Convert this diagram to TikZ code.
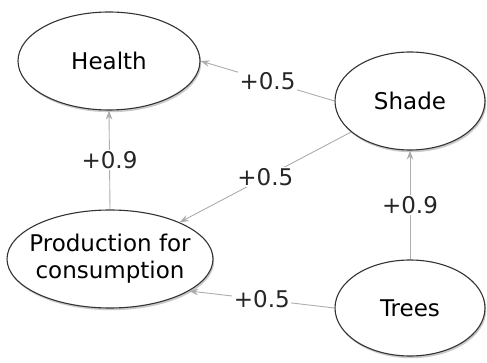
\documentclass[tikz,border=0pt]{standalone}
\usepackage{fontspec}
\setmainfont{DejaVu Sans}
\usetikzlibrary{shapes.geometric,arrows.meta,shadows}
\begin{document}
\begin{tikzpicture}[x=1pt,y=-1pt,
  concept/.style={ellipse, draw=black!80, line width=1.1pt, fill=white,
    inner sep=0pt, align=center,
    font=\fontsize{23}{27}\selectfont,
    drop shadow={shadow xshift=1.2pt, shadow yshift=-2.2pt, opacity=0.35, fill=black!60}},
  link/.style={draw=black!32, line width=0.9pt,
    -{Stealth[length=9pt,width=6.5pt,fill=black!32]}},
  weight/.style={fill=white, inner sep=1.5pt, text=black!85,
    font=\fontsize{23}{27}\selectfont}]
  \useasboundingbox (0,0) rectangle (487,363);

  % concept nodes
  \node[concept, minimum width=182pt, minimum height=98pt] (health) at (109,61) {Health};
  \node[concept, minimum width=150pt, minimum height=98pt] (shade) at (410,101) {Shade};
  \node[concept, minimum width=206pt, minimum height=98pt, inner xsep=-10pt, inner ysep=-4pt] (prod) at (110,259) {Production for\\consumption};
  \node[concept, minimum width=150pt, minimum height=96pt] (trees) at (410,308) {Trees};

  % weighted influences
  \draw[link] (shade.west) -- node[weight] {+0.5} (health.east);
  \draw[link] (prod.north) -- node[weight] {+0.9} (health.south);
  \draw[link] (shade) -- node[weight] {+0.5} (prod);
  \draw[link] (trees.north) -- node[weight] {+0.9} (shade.south);
  \draw[link] (trees.west) -- node[weight] {+0.5} (prod.-22);
\end{tikzpicture}
\end{document}
